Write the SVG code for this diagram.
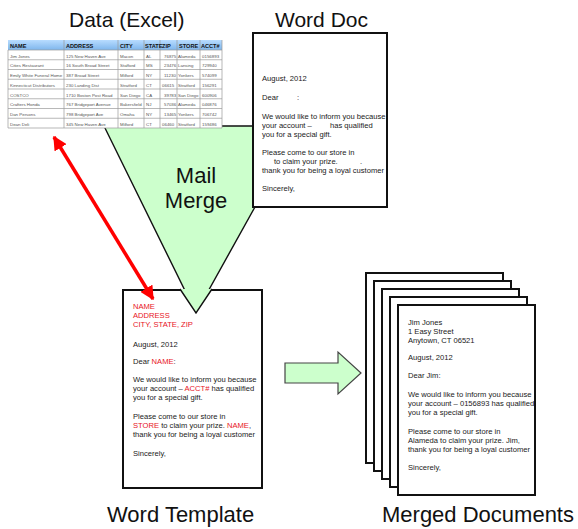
<svg xmlns="http://www.w3.org/2000/svg" width="578" height="529" viewBox="0 0 578 529">
<defs>
<marker id="redHead" viewBox="0 0 10 10" refX="9" refY="5" markerWidth="4" markerHeight="4" orient="auto-start-reverse" markerUnits="strokeWidth">
<path d="M0,0 L10,5 L0,10 z" fill="#ff0000"/>
</marker>
<linearGradient id="hdr" x1="0" y1="0" x2="0" y2="1">
<stop offset="0" stop-color="#b8dcff"/>
<stop offset="1" stop-color="#7fb6ec"/>
</linearGradient>
</defs>
<style>
.title{font-family:"Liberation Sans",Arial,sans-serif;font-size:21px;fill:#111}
.big{font-family:"Liberation Sans",Arial,sans-serif;font-size:22px;fill:#111;text-anchor:middle}
.doc{font-family:"Liberation Sans",Arial,sans-serif;font-size:7.6px;fill:#1a1a1a}
.red{fill:#e8141e}
.page{fill:#fff;stroke:#111;stroke-width:2}
.th{font-family:"Liberation Sans",Arial,sans-serif;font-size:5.6px;font-weight:bold;fill:#111}
.td{font-family:"Liberation Sans",Arial,sans-serif;font-size:4.4px;fill:#555}
.grid{stroke:#9a9a9a;stroke-width:0.7;fill:none}
</style>
<rect width="578" height="529" fill="#fff"/>

<!-- Mail Merge funnel -->
<g id="mailmerge">
<polygon points="104,126 300,126 196,313" fill="#ccffcc" stroke="#111" stroke-width="1.4"/>
<text class="big" x="196" y="183">Mail</text>
<text class="big" x="196" y="208">Merge</text>
</g>

<!-- Data (Excel) -->
<g id="excel">
<text class="title" x="69" y="27">Data (Excel)</text>
<rect x="8" y="40" width="214" height="88" fill="#fff"/>
<rect x="8" y="40" width="214" height="10" fill="url(#hdr)"/>
<g class="grid">
<line x1="8" y1="50" x2="222" y2="50"/>
<line x1="8" y1="59.75" x2="222" y2="59.75"/>
<line x1="8" y1="69.5" x2="222" y2="69.5"/>
<line x1="8" y1="79.25" x2="222" y2="79.25"/>
<line x1="8" y1="89" x2="222" y2="89"/>
<line x1="8" y1="98.75" x2="222" y2="98.75"/>
<line x1="8" y1="108.5" x2="222" y2="108.5"/>
<line x1="8" y1="118.25" x2="222" y2="118.25"/>
<line x1="8" y1="128" x2="222" y2="128"/>
<line x1="8" y1="50" x2="8" y2="128"/>
<line x1="64" y1="40" x2="64" y2="128"/>
<line x1="118" y1="40" x2="118" y2="128"/>
<line x1="144" y1="40" x2="144" y2="128"/>
<line x1="160" y1="40" x2="160" y2="128"/>
<line x1="177" y1="40" x2="177" y2="128"/>
<line x1="200" y1="40" x2="200" y2="128"/>
<line x1="222" y1="40" x2="222" y2="128"/>
</g>
<text class="th" y="48"><tspan x="10">NAME</tspan><tspan x="66">ADDRESS</tspan><tspan x="120">CITY</tspan><tspan x="145">STATE</tspan><tspan x="162">ZIP</tspan><tspan x="179">STORE</tspan><tspan x="201">ACCT#</tspan></text>
<g class="td">
<text y="57.5"><tspan x="10">Jim Jones</tspan><tspan x="66">125 New Haven Ave</tspan><tspan x="120">Macon</tspan><tspan x="146">AL</tspan><tspan x="164">76875</tspan><tspan x="178">Alameda</tspan><tspan x="202">0156893</tspan></text>
<text y="67.25"><tspan x="10">Cities Restaurant</tspan><tspan x="66">16 South Broad Street</tspan><tspan x="120">Stafford</tspan><tspan x="146">MS</tspan><tspan x="164">23476</tspan><tspan x="178">Lansing</tspan><tspan x="202">729940</tspan></text>
<text y="77"><tspan x="10">Emily White Funeral Home</tspan><tspan x="66">387 Broad Street</tspan><tspan x="120">Milford</tspan><tspan x="146">NY</tspan><tspan x="164">11230</tspan><tspan x="178">Yonkers</tspan><tspan x="202">574099</tspan></text>
<text y="86.75"><tspan x="10">Kinnecticut Distributors</tspan><tspan x="66">230 Landing Dist</tspan><tspan x="120">Stratford</tspan><tspan x="146">CT</tspan><tspan x="162">06615</tspan><tspan x="178">Stratford</tspan><tspan x="202">156291</tspan></text>
<text y="96.5"><tspan x="10">COSTCO</tspan><tspan x="66">1710 Boston Post Road</tspan><tspan x="120">San Diego</tspan><tspan x="146">CA</tspan><tspan x="164">39783</tspan><tspan x="178">San Diego</tspan><tspan x="202">600906</tspan></text>
<text y="106.25"><tspan x="10">Crafters Honda</tspan><tspan x="66">767 Bridgeport Avenue</tspan><tspan x="120">Bakersfield</tspan><tspan x="146">NJ</tspan><tspan x="164">57036</tspan><tspan x="178">Alameda</tspan><tspan x="202">046876</tspan></text>
<text y="116"><tspan x="10">Dan Persons</tspan><tspan x="66">798 Bridgeport Ave</tspan><tspan x="120">Omaha</tspan><tspan x="146">NY</tspan><tspan x="164">13465</tspan><tspan x="178">Yonkers</tspan><tspan x="202">706742</tspan></text>
<text y="125.75"><tspan x="10">Dean Deli</tspan><tspan x="66">345 New Haven Ave</tspan><tspan x="120">Milford</tspan><tspan x="146">CT</tspan><tspan x="162">06460</tspan><tspan x="178">Stratford</tspan><tspan x="202">159486</tspan></text>
</g>
</g>

<!-- Word Doc -->
<g id="worddoc">
<text class="title" x="275" y="27">Word Doc</text>
<rect class="page" x="253" y="33" width="134" height="174"/>
<g class="doc">
<text x="262" y="81">August, 2012</text>
<text y="100"><tspan x="262">Dear</tspan><tspan x="297">:</tspan></text>
<text x="262" y="119">We would like to inform you because</text>
<text y="128"><tspan x="262">your account –</tspan><tspan x="330">has qualified</tspan></text>
<text x="262" y="137">you for a special gift.</text>
<text x="262" y="155">Please come to our store in</text>
<text y="164"><tspan x="274">to claim your prize.</tspan><tspan x="360">.</tspan></text>
<text x="262" y="173">thank you for being a loyal customer</text>
<text x="262" y="191">Sincerely,</text>
</g>
</g>

<!-- Word Template -->
<g id="template">
<rect class="page" x="123" y="290" width="139" height="198"/>
<polygon points="180,289 212,289 196,313" fill="#ccffcc"/>
<polyline points="180,289 196,313 212,289" fill="none" stroke="#111" stroke-width="1.4"/>
<g class="doc">
<text class="red" x="133" y="309">NAME</text>
<text class="red" x="133" y="318">ADDRESS</text>
<text class="red" x="133" y="327">CITY, STATE, ZIP</text>
<text x="133" y="347">August, 2012</text>
<text x="133" y="364">Dear <tspan class="red">NAME</tspan>:</text>
<text x="133" y="382">We would like to inform you because</text>
<text x="133" y="391">your account – <tspan class="red">ACCT#</tspan> has qualified</text>
<text x="133" y="400">you for a special gift.</text>
<text x="133" y="419">Please come to our store in</text>
<text x="133" y="428"><tspan class="red">STORE</tspan> to claim your prize. <tspan class="red">NAME</tspan>,</text>
<text x="133" y="437">thank you for being a loyal customer</text>
<text x="133" y="456">Sincerely,</text>
</g>
<text class="title" x="107" y="522" style="font-size:22px">Word Template</text>
</g>

<!-- Merged Documents -->
<g id="merged">
<rect class="page" x="366" y="273" width="137" height="190"/>
<rect class="page" x="374" y="281" width="137" height="190"/>
<rect class="page" x="382" y="289" width="137" height="190"/>
<rect class="page" x="390" y="297" width="137" height="190"/>
<rect class="page" x="398" y="305" width="137" height="190"/>
<g class="doc">
<text x="408" y="325">Jim Jones</text>
<text x="408" y="334">1 Easy Street</text>
<text x="408" y="343">Anytown, CT 06521</text>
<text x="408" y="360">August, 2012</text>
<text x="408" y="378">Dear Jim:</text>
<text x="408" y="397">We would like to inform you because</text>
<text x="408" y="406">your account – 0156893  has qualified</text>
<text x="408" y="415">you for a special gift.</text>
<text x="408" y="434">Please come to our store in</text>
<text x="408" y="443">Alameda to claim your prize. Jim,</text>
<text x="408" y="452">thank you for being a loyal customer</text>
<text x="408" y="470">Sincerely,</text>
</g>
<text class="title" x="382" y="522" style="font-size:22px">Merged Documents</text>
</g>

<!-- Connectors -->
<g id="connectors">
<line x1="54" y1="137" x2="153" y2="299" stroke="#ff0000" stroke-width="3.5" marker-start="url(#redHead)" marker-end="url(#redHead)"/>
<polygon points="285,363 338,363 338,352 361,373 338,394 338,383 285,383" fill="#ccffcc" stroke="#444" stroke-width="1.2"/>
</g>
</svg>
